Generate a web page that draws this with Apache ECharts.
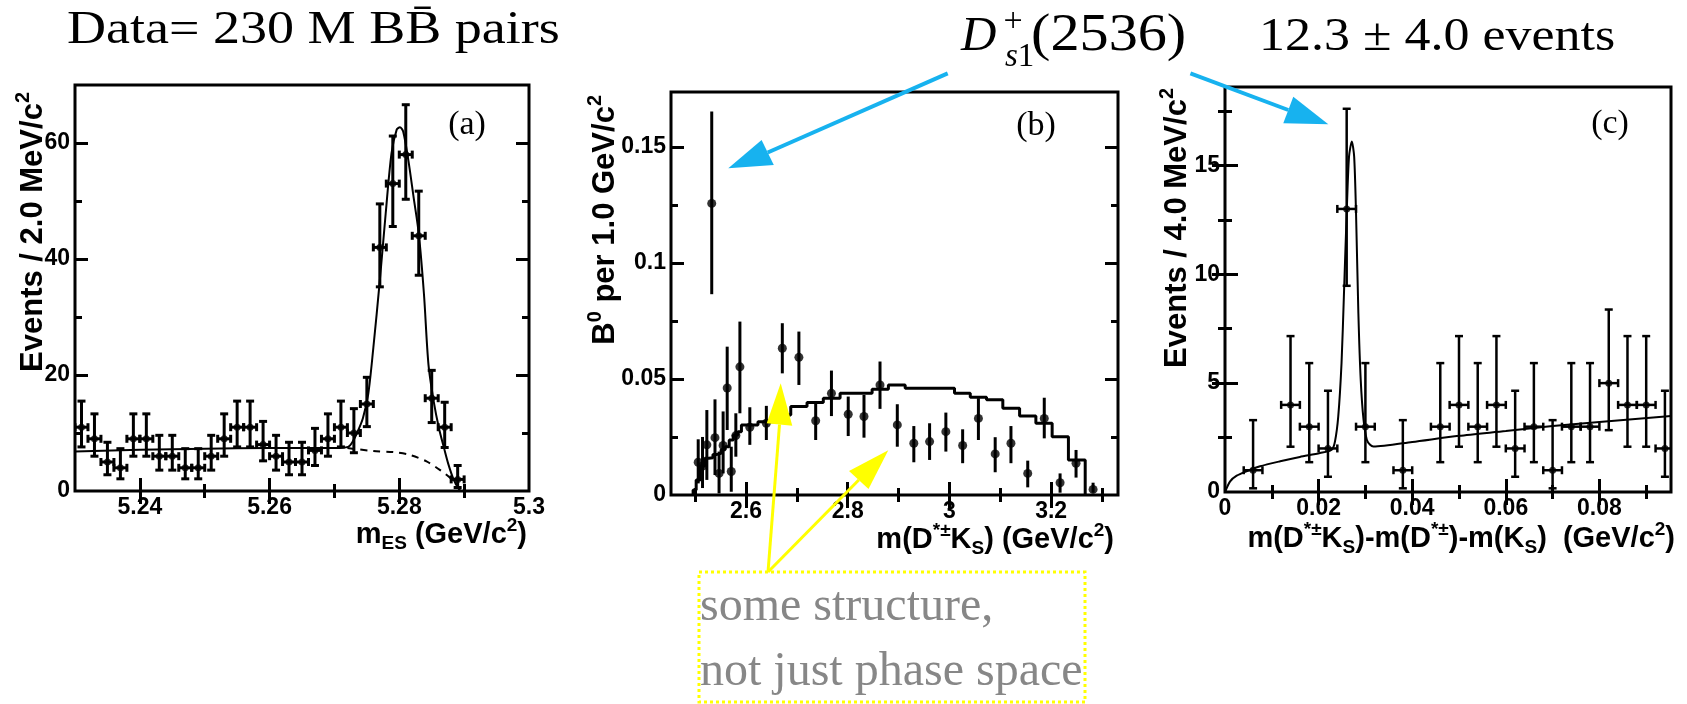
<!DOCTYPE html>
<html>
<head>
<meta charset="utf-8">
<script src="https://cdn.jsdelivr.net/npm/echarts@6.0.0/dist/echarts.min.js"></script>
<style>
html, body { margin: 0; padding: 0; background: #fff; }
#main { width: 1687px; height: 704px; }
</style>
</head>
<body>
<div id="main"></div>
<script>
// ---- (a) m_ES, 2 MeV bins
var mesX = [5.231, 5.233, 5.235, 5.237, 5.239, 5.241, 5.243, 5.245, 5.247, 5.249,
            5.251, 5.253, 5.255, 5.257, 5.259, 5.261, 5.263, 5.265, 5.267, 5.269,
            5.271, 5.273, 5.275, 5.277, 5.279, 5.281, 5.283, 5.285, 5.287, 5.289];
var mesN = [11, 9, 5, 4, 9, 9, 6, 6, 4, 4, 6, 9, 11, 11, 8, 6, 5, 5, 7, 9,
            11, 10, 15, 42, 53, 58, 44, 16, 11, 2];
var mesLo = [7.6, 6.0, 2.8, 2.1, 6.0, 6.0, 3.6, 3.6, 2.1, 2.1, 3.6, 6.0, 7.6, 7.6, 5.2, 3.6, 2.8, 2.8, 4.4, 6.0,
             7.6, 6.6, 11.1, 35.2, 45.6, 50.3, 37.2, 11.8, 7.5, 0.6];
var mesHi = [15.5, 13.3, 8.4, 7.3, 13.3, 13.3, 9.6, 9.6, 7.3, 7.3, 9.6, 13.3, 15.5, 15.5, 12.0, 9.6, 8.4, 8.4, 10.8, 13.3,
             15.5, 14.2, 19.6, 49.5, 61.2, 66.6, 51.7, 20.8, 15.3, 4.4];
var mesHalfBin = 0.001;
var mesFitX = [5.230, 5.240, 5.250, 5.260, 5.270, 5.2721, 5.2728, 5.2736, 5.2744, 5.2752, 5.2760, 5.2770, 5.2779,
               5.2788, 5.2796, 5.2801, 5.2806, 5.2814, 5.2822, 5.2830, 5.2838, 5.2845, 5.2853, 5.2861, 5.2869,
               5.2876, 5.2884, 5.2892, 5.2895];
var mesFitY = [6.8, 7.1, 7.3, 7.4, 7.4, 7.6, 8.5, 10.3, 12.6, 16.6, 24.7, 36.3, 47.8,
               58.2, 62.3, 62.7, 62.0, 57.0, 50.7, 44.4, 34.0, 21.8, 15.5, 10.9, 7.4,
               4.5, 1.9, 0.3, 0];
var mesBkgX = [5.2720, 5.2760, 5.2791, 5.2817, 5.2842, 5.2863, 5.2879, 5.2889, 5.2894, 5.2897];
var mesBkgY = [7.4, 6.9, 6.7, 6.2, 5.1, 3.6, 2.2, 1.0, 0.2, 0];

// ---- (b) m(D*K_S), branching fraction per bin
var dkX = [2.506, 2.5145, 2.523, 2.5326, 2.539, 2.547, 2.555, 2.563, 2.571, 2.580, 2.588,
           2.6075, 2.640, 2.6714, 2.704, 2.737, 2.768, 2.801, 2.832, 2.8635, 2.8975, 2.930,
           2.961, 2.993, 3.026, 3.057, 3.090, 3.121, 3.154, 3.1865, 3.2176, 3.249, 3.2825];
var dkY = [0.0141, 0.0125, 0.0216, 0.1256, 0.0247, 0.0093, 0.0213, 0.0461, 0.0101, 0.0256, 0.0552,
           0.0292, 0.0309, 0.0632, 0.0593, 0.0320, 0.0438, 0.0348, 0.0338, 0.0474, 0.0302, 0.0223,
           0.0230, 0.0273, 0.0213, 0.0330, 0.0177, 0.0223, 0.0093, 0.0330, 0.0053, 0.0137, 0.0024];
var dkLo = [0.0050, 0.0030, 0.0065, 0.0865, 0.0086, 0.0007, 0.0093, 0.0280, 0.0014, 0.0165, 0.0352,
            0.0216, 0.0237, 0.0524, 0.0474, 0.0237, 0.0340, 0.0254, 0.0247, 0.0371, 0.0208, 0.0141,
            0.0151, 0.0187, 0.0137, 0.0237, 0.0098, 0.0137, 0.0033, 0.0244, 0.0010, 0.0075, 0.0010];
var dkHi = [0.0240, 0.0250, 0.0366, 0.1652, 0.0412, 0.0187, 0.0360, 0.0639, 0.0208, 0.0352, 0.0747,
            0.0378, 0.0384, 0.0740, 0.0704, 0.0402, 0.0536, 0.0424, 0.0431, 0.0575, 0.0391, 0.0297,
            0.0309, 0.0355, 0.0283, 0.0417, 0.0249, 0.0297, 0.0148, 0.0419, 0.0093, 0.0194, 0.0053];
// phase space histogram
var phEdges = [2.496, 2.502, 2.510, 2.519, 2.527, 2.535, 2.543, 2.551, 2.559, 2.567, 2.575, 2.584,
               2.591, 2.6235, 2.656, 2.688, 2.720, 2.752, 2.785, 2.816, 2.848, 2.880, 2.913, 2.945,
               2.977, 3.010, 3.041, 3.073, 3.105, 3.138, 3.170, 3.202, 3.234, 3.267];
var phH = [0.0022, 0.0065, 0.0125, 0.0158, 0.0160, 0.0175, 0.0180, 0.0195, 0.0208, 0.0237, 0.0259, 0.0273,
           0.0302, 0.0316, 0.0345, 0.0381, 0.0398, 0.0417, 0.0438, 0.0438, 0.0456, 0.0474, 0.0460, 0.0460,
           0.0460, 0.0438, 0.0421, 0.0410, 0.0374, 0.0340, 0.0309, 0.0251, 0.0151];

// ---- (c) delta m, 4 MeV bins
var dmX = [0.006, 0.014, 0.018, 0.022, 0.026, 0.030, 0.038, 0.046, 0.050, 0.054,
           0.058, 0.062, 0.066, 0.070, 0.074, 0.078, 0.082, 0.086, 0.090, 0.094];
var dmN = [1, 4, 3, 2, 13, 3, 1, 3, 4, 3, 4, 2, 3, 1, 3, 3, 5, 4, 4, 2];
var dmLo = [0.17, 2.08, 1.37, 0.70, 9.47, 1.37, 0.17, 1.37, 2.08, 1.37, 2.08, 0.70, 1.37, 0.17, 1.37, 1.37, 2.84, 2.08, 2.08, 0.70];
var dmHi = [3.30, 7.16, 5.92, 4.65, 17.6, 5.92, 3.30, 5.92, 7.16, 5.92, 7.16, 4.65, 5.92, 3.30, 5.92, 5.92, 8.38, 7.16, 7.16, 4.65];
var dmHalfBin = 0.002;
var dmFitX = [0, 0.0011, 0.0025, 0.0046, 0.0075, 0.0118, 0.0160, 0.0203, 0.0228, 0.0235, 0.0242, 0.0249,
              0.0254, 0.0260, 0.0265, 0.0271, 0.0276, 0.0280, 0.0285, 0.0290, 0.0296, 0.0303, 0.0310, 0.0317,
              0.040, 0.050, 0.060, 0.070, 0.080, 0.0953];
var dmFitY = [0, 0.49, 0.75, 0.95, 1.18, 1.41, 1.61, 1.79, 1.94, 2.32, 3.47, 5.92,
              8.98, 12.8, 15.4, 16.1, 15.4, 12.8, 8.2, 5.15, 3.32, 2.4, 2.17, 2.09,
              2.3, 2.58, 2.8, 3.03, 3.22, 3.49];

// tick positions / labels
var ticksA = { xMaj: [5.24, 5.26, 5.28], xMin: [5.25, 5.27, 5.29], xLab: [5.24, 5.26, 5.28, 5.3],
               yMaj: [20, 40, 60], yMin: [10, 30, 50], yLab: [0, 20, 40, 60] };
var ticksB = { xMaj: [2.6, 2.8, 3.0, 3.2], xMin: [2.5, 2.7, 2.9, 3.1, 3.3], xLab: [2.6, 2.8, 3, 3.2],
               yMaj: [0.05, 0.1, 0.15], yMin: [0.025, 0.075, 0.125], yLab: [0, 0.05, 0.1, 0.15] };
var ticksC = { xMaj: [0.02, 0.04, 0.06, 0.08], xMin: [0.01, 0.03, 0.05, 0.07, 0.09], xLab: [0, 0.02, 0.04, 0.06, 0.08],
               yMaj: [5, 10, 15], yMin: [2.5, 7.5, 12.5, 17.5], yLab: [0, 5, 10, 15] };

function fontOk(name) {
    var ctx = document.createElement('canvas').getContext('2d');
    ctx.font = 'bold 40px monospace';
    var w = ctx.measureText('Events 5.26 GeV').width;
    ctx.font = 'bold 40px "' + name + '", monospace';
    return ctx.measureText('Events 5.26 GeV').width !== w;
}
var NARROW = fontOk('Liberation Sans Narrow');
var SANS = NARROW ? '"Liberation Sans Narrow", "Liberation Sans", sans-serif' : '"Liberation Sans", Arial, sans-serif';
var SERIF = '"Liberation Serif", "Times New Roman", serif';
var TICK_FS = NARROW ? 27 : 23;
var TITLE_FS = NARROW ? 34 : 29;
var YTITLE_FS = NARROW ? 36 : 31;
var BLUE = '#17b2ef', YEL = '#ffff00';

function fmt(v) { return String(parseFloat((+v).toFixed(4))); }
function zip(xs, ys) { return xs.map(function (x, i) { return [x, ys[i]]; }); }
function errData(xs, ys, lo, hi, hw) {
    return xs.map(function (x, i) { return [x, ys[i], lo[i], hi[i], hw]; });
}
function stepData(edges, h) {
    var d = [[edges[0], 0]];
    h.forEach(function (v, i) { d.push([edges[i], v]); });
    d.push([edges[edges.length - 1], 0]);
    return d;
}

// labelled major ticks + minor ticks, mirrored on the opposite side of the frame
function frameAxes(dim, gi, min, max, maj, mnr, lab) {
    var sides = dim === 'x' ? ['bottom', 'top'] : ['left', 'right'];
    var out = [];
    sides.forEach(function (side, k) {
        [[maj, 13], [mnr, 7]].forEach(function (t, j) {
            out.push({
                type: 'value', gridIndex: gi, min: min, max: max, position: side,
                axisLine: { show: false }, splitLine: { show: false },
                axisTick: { show: true, inside: true, length: t[1], customValues: t[0],
                            lineStyle: { color: '#000', width: 3 } },
                axisLabel: (k === 0 && j === 0) ? {
                    show: true, customValues: lab, formatter: fmt, color: '#000',
                    fontFamily: SANS, fontWeight: 'bold', fontSize: TICK_FS, margin: 5
                } : { show: false }
            });
        });
    });
    return out;
}

function errItem(lw, cap) {
    return function (params, api) {
        var x = api.value(0), y = api.value(1), lo = api.value(2), hi = api.value(3), hw = api.value(4);
        var c = api.coord([x, y]), a = api.coord([x, lo]), b = api.coord([x, hi]);
        var st = { stroke: '#000', lineWidth: lw };
        var kids = [{ type: 'line', shape: { x1: c[0], y1: a[1], x2: c[0], y2: b[1] }, style: st }];
        if (cap) {
            kids.push({ type: 'line', shape: { x1: c[0] - cap, y1: a[1], x2: c[0] + cap, y2: a[1] }, style: st });
            kids.push({ type: 'line', shape: { x1: c[0] - cap, y1: b[1], x2: c[0] + cap, y2: b[1] }, style: st });
        }
        if (hw) {
            var l = api.coord([x - hw, y]), r = api.coord([x + hw, y]);
            kids.push({ type: 'line', shape: { x1: l[0], y1: c[1], x2: r[0], y2: c[1] }, style: st });
            if (cap) {
                kids.push({ type: 'line', shape: { x1: l[0], y1: c[1] - cap, x2: l[0], y2: c[1] + cap }, style: st });
                kids.push({ type: 'line', shape: { x1: r[0], y1: c[1] - cap, x2: r[0], y2: c[1] + cap }, style: st });
            }
        }
        return { type: 'group', children: kids };
    };
}

var xAxes = [].concat(
    frameAxes('x', 0, 5.23, 5.30, ticksA.xMaj, ticksA.xMin, ticksA.xLab),
    frameAxes('x', 1, 2.4525, 3.3315, ticksB.xMaj, ticksB.xMin, ticksB.xLab),
    frameAxes('x', 2, 0, 0.0953, ticksC.xMaj, ticksC.xMin, ticksC.xLab)
);
var yAxes = [].concat(
    frameAxes('y', 0, 0, 70, ticksA.yMaj, ticksA.yMin, ticksA.yLab),
    frameAxes('y', 1, 0, 0.1736, ticksB.yMaj, ticksB.yMin, ticksB.yLab),
    frameAxes('y', 2, 0, 18.6, ticksC.yMaj, ticksC.yMin, ticksC.yLab)
);

var gridStyle = { show: true, borderColor: '#000', borderWidth: 3, backgroundColor: 'transparent' };

// rich text for the axis titles (sub/superscripts)
function makeRich(fs) {
    var s = Math.round(fs * 0.65);
    return {
        b: { fontFamily: SANS, fontWeight: 'bold', fontSize: fs, lineHeight: fs + 8, color: '#000', fill: '#000' },
        sup: { fontFamily: SANS, fontWeight: 'bold', fontSize: s, lineHeight: s + 2, verticalAlign: 'top', color: '#000', fill: '#000' },
        sub: { fontFamily: SANS, fontWeight: 'bold', fontSize: s, lineHeight: s + 2, verticalAlign: 'bottom', color: '#000', fill: '#000' }
    };
}
var xRich = makeRich(TITLE_FS), yRich = makeRich(YTITLE_FS);
function axisTitle(text, x, y, rotated) {
    return {
        type: 'text', x: x, y: y, rotation: rotated ? Math.PI / 2 : 0, z: 50,
        style: { text: text, rich: rotated ? yRich : xRich, align: 'right', verticalAlign: 'middle', fill: '#000' }
    };
}
function serifText(text, x, y, size, opt) {
    opt = opt || {};
    return {
        type: 'text', x: x, y: y, scaleX: opt.sx || 1, z: 50,
        style: {
            text: text, fontFamily: SERIF, fontSize: size, fontStyle: opt.italic ? 'italic' : 'normal',
            fill: opt.color || '#000', align: opt.align || 'left', verticalAlign: 'middle'
        }
    };
}
function arrow(x1, y1, tip, b1, b2, color, lw) {
    return [
        { type: 'line', z: 100, shape: { x1: x1, y1: y1, x2: (b1[0] + b2[0]) / 2, y2: (b1[1] + b2[1]) / 2 },
          style: { stroke: color, lineWidth: lw } },
        { type: 'polygon', z: 100, shape: { points: [tip, b1, b2] }, style: { fill: color } }
    ];
}

var graphics = [
    serifText('Data= 230 M BB\u0304 pairs', 67, 31, 47, { sx: 1.15 }),
    serifText('D', 961, 37, 49, { italic: true }),
    serifText('+', 1013, 22, 34, { align: 'center' }),
    { type: 'text', x: 1005, y: 57, z: 50,
      style: { text: '{i|s}{n|1}', verticalAlign: 'middle', align: 'left',
               rich: { i: { fontFamily: SERIF, fontStyle: 'italic', fontSize: 33, fill: '#000', color: '#000' },
                       n: { fontFamily: SERIF, fontSize: 33, fill: '#000', color: '#000' } } } },
    serifText('(2536)', 1031, 36, 52, { sx: 1.12 }),
    serifText('12.3 \u00b1 4.0 events', 1259, 38, 46, { sx: 1.13 }),
    serifText('(a)', 467, 125, 34, { align: 'center' }),
    serifText('(b)', 1036, 126, 34, { align: 'center' }),
    serifText('(c)', 1610, 124, 34, { align: 'center' }),
    serifText('some structure,', 700, 607, 48, { color: '#878787' }),
    serifText('not just phase space', 700, 672, 48, { color: '#878787' }),
    { type: 'rect', z: 90, shape: { x: 699, y: 572, width: 386, height: 130 },
      style: { fill: 'transparent', stroke: YEL, lineWidth: 3, lineDash: [3, 3] } },
    axisTitle('{b|Events / 2.0 MeV/c}{sup|2}', 33, 92, true),
    axisTitle('{b|B}{sup|0}{b| per 1.0 GeV/c}{sup|2}', 605, 95, true),
    axisTitle('{b|Events / 4.0 MeV/c}{sup|2}', 1177, 88, true),
    axisTitle('{b|m}{sub|ES}{b| (GeV/c}{sup|2}{b|)}', 527, 535, false),
    axisTitle('{b|m(D}{sup|*\u00b1}{b|K}{sub|S}{b|) (GeV/c}{sup|2}{b|)}', 1114, 540, false),
    axisTitle('{b|m(D}{sup|*\u00b1}{b|K}{sub|S}{b|)-m(D}{sup|*\u00b1}{b|)-m(K}{sub|S}{b|)  (GeV/c}{sup|2}{b|)}', 1675, 539, false)
].concat(
    arrow(947.7, 73.3, [728.3, 168.3], [761.6, 140], [773.8, 165], BLUE, 4),
    arrow(1190.4, 73.3, [1328.3, 124.3], [1293.3, 96.7], [1283.3, 123.3], BLUE, 4),
    arrow(768, 572, [780.7, 383.3], [766.7, 423.3], [792.3, 425.7], YEL, 3),
    arrow(768, 572, [888.3, 450.3], [849, 471], [868.5, 489], YEL, 3)
);

var option = {
    animation: false,
    backgroundColor: '#fff',
    grid: [
        Object.assign({ left: 75, top: 85, width: 454, height: 406 }, gridStyle),
        Object.assign({ left: 671, top: 92, width: 447, height: 403 }, gridStyle),
        Object.assign({ left: 1225, top: 87, width: 446, height: 405 }, gridStyle)
    ],
    xAxis: xAxes,
    yAxis: yAxes,
    graphic: { elements: graphics },
    series: [
        // (a)
        { type: 'line', xAxisIndex: 0, yAxisIndex: 0, data: zip(mesFitX, mesFitY), showSymbol: false,
          smooth: 0.3, lineStyle: { color: '#000', width: 2 }, z: 2 },
        { type: 'line', xAxisIndex: 0, yAxisIndex: 0, data: zip(mesBkgX, mesBkgY), showSymbol: false,
          smooth: 0.3, lineStyle: { color: '#000', width: 2, type: [7, 6] }, z: 2 },
        { type: 'custom', xAxisIndex: 0, yAxisIndex: 0, data: errData(mesX, mesN, mesLo, mesHi, mesHalfBin),
          renderItem: errItem(3, 4), encode: { x: 0, y: 1 }, clip: true, z: 3 },
        { type: 'scatter', xAxisIndex: 0, yAxisIndex: 0, data: zip(mesX, mesN), symbol: 'circle',
          symbolSize: 7, itemStyle: { color: '#000' }, z: 4 },
        // (b)
        { type: 'line', xAxisIndex: 4, yAxisIndex: 4, data: stepData(phEdges, phH), step: 'end', showSymbol: false,
          lineStyle: { color: '#000', width: 3 }, z: 2 },
        { type: 'custom', xAxisIndex: 4, yAxisIndex: 4, data: errData(dkX, dkY, dkLo, dkHi, 0),
          renderItem: errItem(3, 0), encode: { x: 0, y: 1 }, clip: true, z: 3 },
        { type: 'scatter', xAxisIndex: 4, yAxisIndex: 4, data: zip(dkX, dkY), symbol: 'circle',
          symbolSize: 9, itemStyle: { color: '#000' }, z: 4 },
        // (c)
        { type: 'line', xAxisIndex: 8, yAxisIndex: 8, data: zip(dmFitX, dmFitY), showSymbol: false,
          smooth: 0.25, lineStyle: { color: '#000', width: 2 }, z: 2 },
        { type: 'custom', xAxisIndex: 8, yAxisIndex: 8, data: errData(dmX, dmN, dmLo, dmHi, dmHalfBin),
          renderItem: errItem(2.5, 4), encode: { x: 0, y: 1 }, clip: true, z: 3 },
        { type: 'scatter', xAxisIndex: 8, yAxisIndex: 8, data: zip(dmX, dmN), symbol: 'circle',
          symbolSize: 7, itemStyle: { color: '#000' }, z: 4 }
    ]
};

var chart = echarts.init(document.getElementById('main'));
chart.setOption(option);
</script>
</body>
</html>
